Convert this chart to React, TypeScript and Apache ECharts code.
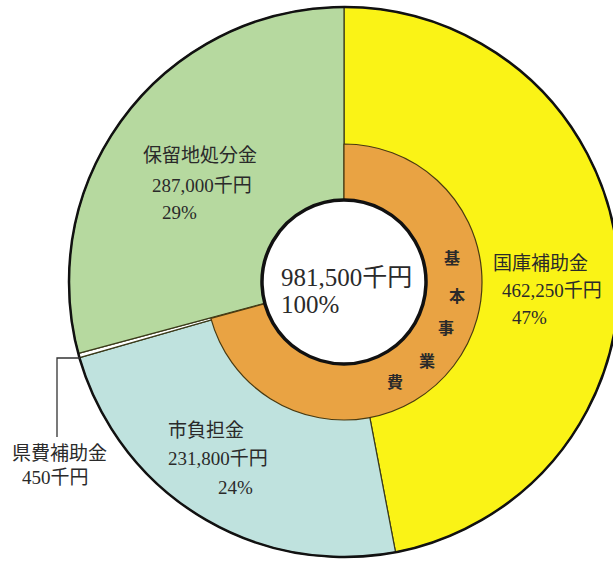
import React, { useEffect, useRef } from "react";
import * as echarts from "echarts";

// ---- data ----
const categories = ["国庫補助金", "市負担金", "県費補助金", "保留地処分金"];
const values = [462250, 231800, 450, 287000];
const innerName = "基本事業費";
const innerMembers = ["国庫補助金", "市負担金", "県費補助金"];
const unit = "千円";

const sliceColors = ["#faf316", "#bfe2de", "#ffffff", "#b6d99f"];
const FONT = '"Liberation Serif", "Noto Sans CJK JP", serif';
const TEXT = "#2a2a2a";

const total = values.reduce((a, b) => a + b, 0);
const innerValue = values
  .filter((_, i) => innerMembers.includes(categories[i]))
  .reduce((a, b) => a + b, 0);
const fmt = (v: number) => v.toLocaleString("en-US") + unit;
const pct = (v: number) => Math.round((v / total) * 100) + "%";
const valOf = (name: string) => values[categories.indexOf(name)];

const CX = 344;
const CY = 282;

function txt(text: string, x: number, y: number, size = 19) {
  return {
    type: "text",
    x,
    y,
    z: 100,
    silent: true,
    style: {
      text,
      fill: TEXT,
      fontSize: size,
      fontFamily: FONT,
      align: "left",
      verticalAlign: "middle",
    },
  };
}

function ctxt(text: string, x: number, y: number, size = 16) {
  return {
    type: "text",
    x,
    y,
    z: 100,
    silent: true,
    style: {
      text,
      fill: TEXT,
      fontSize: size,
      fontWeight: "bold",
      fontFamily: FONT,
      align: "center",
      verticalAlign: "middle",
    },
  };
}

export default function App() {
  const ref = useRef<HTMLDivElement>(null);
  useEffect(() => {
    if (!ref.current) return;
    const chart = echarts.init(ref.current, undefined, { renderer: "svg" });
    const ringChars = innerName.split("");
    const ringPos = [
      [452, 258],
      [457, 296],
      [446, 328],
      [427, 361],
      [395, 382],
    ];
    chart.setOption({
      animation: false,
      backgroundColor: "#ffffff",
      series: [
        {
          type: "pie",
          z: 2,
          center: [CX, CY],
          radius: [82, 275],
          startAngle: 90,
          clockwise: true,
          minAngle: 0.9,
          silent: true,
          label: { show: false },
          labelLine: { show: false },
          itemStyle: { borderColor: "#3a3a1a", borderWidth: 1.2 },
          data: categories.map((name, i) => ({
            name,
            value: values[i],
            itemStyle: { color: sliceColors[i] },
          })),
        },
        {
          type: "pie",
          z: 3,
          center: [CX, CY],
          radius: [82, 138],
          startAngle: 90,
          clockwise: true,
          silent: true,
          label: { show: false },
          labelLine: { show: false },
          data: [
            {
              name: innerName,
              value: innerValue,
              itemStyle: { color: "#e9a343", borderColor: "#4a3a10", borderWidth: 1.2 },
            },
            {
              name: "other",
              value: total - innerValue,
              itemStyle: { color: "rgba(0,0,0,0)", borderWidth: 0 },
            },
          ],
        },
        {
          type: "pie",
          z: 4,
          center: [CX, CY],
          radius: [0, 82],
          silent: true,
          label: { show: false },
          labelLine: { show: false },
          itemStyle: { color: "#ffffff", borderColor: "#111111", borderWidth: 3.5 },
          data: [{ name: "合計", value: total }],
        },
      ],
      graphic: [
        {
          type: "circle",
          z: 50,
          silent: true,
          shape: { cx: CX, cy: CY, r: 275 },
          style: { fill: "none", stroke: "#111111", lineWidth: 2.5 },
        },
        {
          type: "polyline",
          z: 50,
          silent: true,
          shape: {
            points: [
              [80, 358],
              [57, 358],
              [57, 437],
            ],
          },
          style: { stroke: "#333333", lineWidth: 1.3, fill: "none" },
        },
        txt(fmt(total), 281, 277, 25),
        txt("100%", 281, 304, 25),
        txt("保留地処分金", 143, 155),
        txt(fmt(valOf("保留地処分金")), 152, 185),
        txt(pct(valOf("保留地処分金")), 162, 212),
        txt("国庫補助金", 493, 263),
        txt(fmt(valOf("国庫補助金")), 502, 290),
        txt(pct(valOf("国庫補助金")), 512, 317),
        txt("市負担金", 168, 430),
        txt(fmt(valOf("市負担金")), 168, 458),
        txt(pct(valOf("市負担金")), 218, 487),
        txt("県費補助金", 12, 453),
        txt(fmt(valOf("県費補助金")), 22, 477),
        ...ringChars.map((c, i) => ctxt(c, ringPos[i][0], ringPos[i][1])),
      ],
    });
    return () => chart.dispose();
  }, []);
  return (
    <div
      ref={ref}
      style={{ position: "fixed", left: 0, top: 0, width: 613, height: 564 }}
    />
  );
}
